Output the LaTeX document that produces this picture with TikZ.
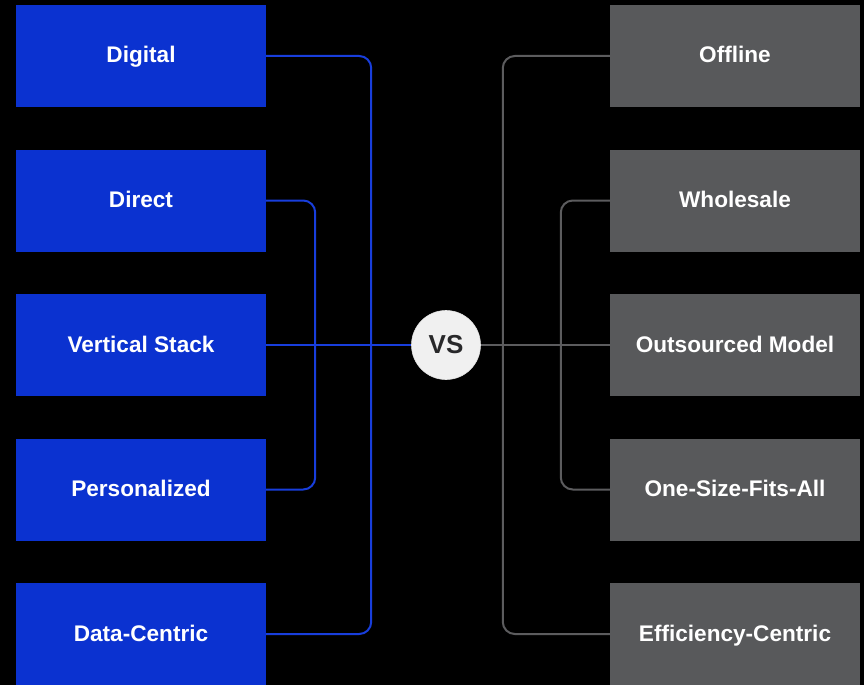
\documentclass[tikz,border=0pt]{standalone}
\usepackage{fontspec}
\setmainfont{Liberation Sans}
\definecolor{dtcblue}{RGB}{11,50,208}
\definecolor{dtclink}{RGB}{24,62,220}
\definecolor{oldgray}{RGB}{88,89,91}
\definecolor{oldlink}{RGB}{92,92,94}
\definecolor{vsfill}{RGB}{240,240,240}
\definecolor{vstext}{RGB}{40,40,42}

\begin{document}
\begin{tikzpicture}[x=1pt,y=-1pt,
  newbox/.style={rectangle,fill=dtcblue,text=white,minimum width=250pt,minimum height=102pt,inner sep=0pt,text height=17pt,text depth=3pt,font=\bfseries\fontsize{22.6}{26}\selectfont},
  oldbox/.style={newbox,fill=oldgray},
  nl/.style={draw=dtclink,line width=2pt,rounded corners=12pt},
  ol/.style={draw=oldlink,line width=2pt,rounded corners=12pt},
  vsnode/.style={circle,fill=vsfill,draw=white!80!gray,line width=0.6pt,minimum size=69pt,inner sep=0pt,text=vstext,font=\bfseries\fontsize{26}{30}\selectfont}]
  % black backdrop
  \fill[black] (0,0) rectangle (864,685);
  % the two columns
  \foreach \name/\txt [count=\i from 0] in {digital/Digital,direct/Direct,stack/Vertical Stack,personal/Personalized,datac/Data-Centric}
    \node[newbox] (\name) at (141,56+144.5*\i) {\txt};
  \foreach \name/\txt [count=\i from 0] in {offline/Offline,wholesale/Wholesale,outsourced/Outsourced Model,onesize/One-Size-Fits-All,effic/Efficiency-Centric}
    \node[oldbox] (\name) at (735,56+144.5*\i) {\txt};
  \node[vsnode] (vs) at (446,345) {VS};
  % brackets on the left
  \draw[nl] (digital.east) -- ++(105,0) |- (datac.east);
  \draw[nl] (direct.east) -- ++(49,0) |- (personal.east);
  \draw[nl] (stack.east) -- (vs);
  % brackets on the right
  \draw[ol] (offline.west) -- ++(-107,0) |- (effic.west);
  \draw[ol] (wholesale.west) -- ++(-49,0) |- (onesize.west);
  \draw[ol] (outsourced.west) -- (vs);
\end{tikzpicture}
\end{document}
